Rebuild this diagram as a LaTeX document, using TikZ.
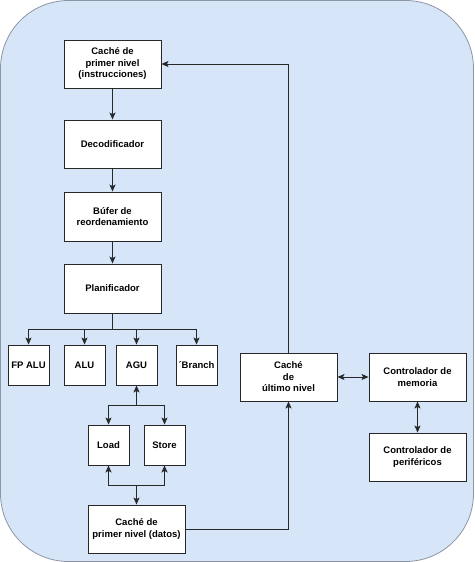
\documentclass[tikz,border=0pt]{standalone}
\usepackage{fontspec}
\setmainfont{Liberation Sans}
\usetikzlibrary{arrows.meta}
\definecolor{bgblue}{RGB}{214,230,248}
\definecolor{bgedge}{RGB}{140,150,165}
\definecolor{boxedge}{RGB}{40,40,40}
\tikzset{
  box/.style={draw=boxedge, fill=white, line width=0.9pt, minimum width=97pt, minimum height=48pt,
    inner sep=0pt, align=center, font=\bfseries\fontsize{9.5}{11.5}\selectfont},
  smallbox/.style={box, minimum width=41pt, minimum height=40pt},
  conn/.style={draw=boxedge, line width=1pt},
  arr/.style={conn, -{Stealth[length=7pt,width=6pt,inset=1.5pt]}},
  arrboth/.style={conn, {Stealth[length=7pt,width=6pt,inset=1.5pt]}-{Stealth[length=7pt,width=6pt,inset=1.5pt]}}
}
\begin{document}
\begin{tikzpicture}[x=1pt,y=-1pt]
\useasboundingbox (0,0) rectangle (474,562);
\draw[draw=bgedge, fill=bgblue, line width=0.8pt, rounded corners=68pt] (0.5,0.5) rectangle (473.5,561.5);

\node[box] (ci) at (112.5,64) {Caché de\\primer nivel\\(instrucciones)};
\node[box] (dec) at (112.5,144) {Decodificador};
\node[box, minimum height=49pt] (buf) at (112.5,216.5) {Búfer de\\reordenamiento};
\node[box, minimum height=49pt] (plan) at (112.5,288.5) {Planificador};

\node[smallbox] (fp) at (28.5,365) {FP ALU};
\node[smallbox] (alu) at (84.5,365) {ALU};
\node[smallbox] (agu) at (136.5,365) {AGU};
\node[smallbox] (br) at (196.5,365) {´Branch};

\node[smallbox] (load) at (108.5,445) {Load};
\node[smallbox] (store) at (164.5,445) {Store};

\node[box] (cd) at (136.5,529) {Caché de\\primer nivel (datos)};

\node[box] (cu) at (288.5,377) {Caché\\de\\último nivel};
\node[box] (cm) at (417.5,377) {Controlador de\\memoria};
\node[box] (cp) at (417.5,457) {Controlador de\\periféricos};

\draw[arr] (ci) -- (dec);
\draw[arr] (dec) -- (buf);
\draw[arr] (buf) -- (plan);

\coordinate (bus) at (112.5,329);
\draw[conn] (plan.south) -- (bus);
\draw[arr] (bus) -| (fp.north);
\draw[arr] (bus) -| (alu.north);
\draw[arr] (bus) -| (agu.north);
\draw[arr] (bus) -| (br.north);

\coordinate (jtop) at (136.5,405);
\draw[arr] (jtop) -- (agu.south);
\draw[arr] (jtop) -| (load.north);
\draw[arr] (jtop) -| (store.north);

\coordinate (jbot) at (136.5,485);
\draw[arr] (jbot) -- (cd.north);
\draw[arr] (jbot) -| (load.south);
\draw[arr] (jbot) -| (store.south);

\draw[arr] (cu.north) |- (ci.east);
\draw[arr] (cd.east) -| (cu.south);
\draw[arrboth] (cu) -- (cm);
\draw[arrboth] (cm) -- (cp);
\end{tikzpicture}
\end{document}
